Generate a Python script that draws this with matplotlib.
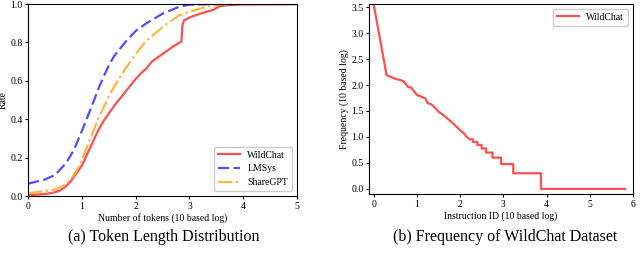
import matplotlib
matplotlib.use("Agg")
import matplotlib.pyplot as plt

plt.rcParams['font.family'] = ['Liberation Serif', 'DejaVu Serif']
plt.rcParams['mathtext.fontset'] = 'stix'

# (a) token length CDF
wild_x = [0, 0.3, 0.5, 0.6, 0.7, 0.8, 0.9, 1.0, 1.1, 1.2, 1.3, 1.4, 1.5, 1.6, 1.8, 2.0, 2.1, 2.2, 2.3, 2.5, 2.7, 2.85, 2.87, 2.9, 3.0, 3.2, 3.45, 3.55, 3.7, 4.0, 5.0]
wild_y = [0.005, 0.01, 0.02, 0.03, 0.05, 0.08, 0.12, 0.16, 0.22, 0.28, 0.34, 0.39, 0.43, 0.47, 0.54, 0.61, 0.64, 0.665, 0.70, 0.74, 0.78, 0.805, 0.89, 0.915, 0.93, 0.95, 0.97, 0.988, 0.994, 0.998, 1.0]
lms_x = [0, 0.3, 0.5, 0.7, 0.85, 1.0, 1.1, 1.2, 1.3, 1.4, 1.5, 1.6, 1.8, 2.0, 2.2, 2.5, 2.8, 3.0, 3.5, 5.0]
lms_y = [0.065, 0.085, 0.11, 0.17, 0.24, 0.34, 0.41, 0.48, 0.555, 0.62, 0.68, 0.73, 0.80, 0.86, 0.90, 0.95, 0.985, 0.997, 1.0, 1.0]
sgpt_x = [0, 0.3, 0.5, 0.7, 0.8, 0.9, 1.0, 1.1, 1.2, 1.3, 1.4, 1.5, 1.6, 1.8, 2.0, 2.2, 2.5, 2.8, 3.0, 3.3, 3.6, 4.0, 5.0]
sgpt_y = [0.015, 0.025, 0.035, 0.06, 0.09, 0.13, 0.19, 0.26, 0.33, 0.40, 0.46, 0.52, 0.57, 0.66, 0.74, 0.81, 0.88, 0.94, 0.96, 0.985, 0.998, 1.0, 1.0]

# (b) instruction frequency
freq_x = [0, 0.3, 0.5, 0.6, 0.7, 0.8, 0.87, 1.0, 1.15, 1.2, 1.25, 1.33, 1.4, 1.5, 1.6, 1.7, 1.8, 1.9, 2.0, 2.1, 2.15, 2.23, 2.23, 2.3, 2.3, 2.4, 2.4, 2.5, 2.5, 2.6, 2.6, 2.75, 2.75, 2.95, 2.95, 3.23, 3.23, 3.87, 3.87, 5.82]
freq_y = [3.56, 2.19, 2.12, 2.10, 2.07, 1.96, 1.95, 1.81, 1.76, 1.74, 1.65, 1.63, 1.58, 1.49, 1.43, 1.36, 1.29, 1.21, 1.13, 1.06, 1.0, 0.954, 0.954, 0.954, 0.903, 0.903, 0.845, 0.845, 0.778, 0.778, 0.699, 0.699, 0.602, 0.602, 0.477, 0.477, 0.301, 0.301, 0.0, 0.0]

fig = plt.figure(figsize=(6.4, 2.54), dpi=100)
ax1 = fig.add_axes([0.044, 0.228, 0.420, 0.756])
ax2 = fig.add_axes([0.577, 0.236, 0.412, 0.748])

lw = 1.6
ax1.plot(wild_x, wild_y, color='#ff3030', alpha=0.85, lw=lw, label='WildChat')
ax1.plot(lms_x, lms_y, color='#3030ff', alpha=0.85, lw=lw, ls=(0, (5, 2)), label='LMSys')
ax1.plot(sgpt_x, sgpt_y, color='#ffaa22', alpha=0.85, lw=lw, ls='-.', label='ShareGPT')
ax1.set_xlim(0, 5)
ax1.set_ylim(0, 1)
ax1.set_xticks([0, 1, 2, 3, 4, 5])
ax1.set_yticks([0, 0.2, 0.4, 0.6, 0.8, 1.0])
ax1.set_xlabel('Number of tokens (10 based log)', fontsize=7, labelpad=2)
ax1.set_ylabel('Rate', fontsize=7, labelpad=2)
ax1.tick_params(labelsize=7, length=2.5, pad=1.5)
ax1.legend(loc='lower right', fontsize=7, framealpha=1, edgecolor='#cccccc', handlelength=2.2)

ax2.plot(freq_x, freq_y, color='#ff3030', alpha=0.85, lw=lw, label='WildChat')
ax2.set_xlim(-0.1, 5.92)
ax2.set_ylim(-0.1, 3.56)
ax2.set_xticks([0, 1, 2, 3, 4, 5, 6])
ax2.set_yticks([0, 0.5, 1.0, 1.5, 2.0, 2.5, 3.0, 3.5])
ax2.set_xlabel('Instruction ID (10 based log)', fontsize=7, labelpad=2)
ax2.set_ylabel('Frequency (10 based log)', fontsize=7, labelpad=2)
ax2.tick_params(labelsize=7, length=2.5, pad=1.5)
ax2.legend(loc='upper right', fontsize=7, framealpha=1, edgecolor='#cccccc', handlelength=2.2)

fig.text(0.256, 0.035, '(a) Token Length Distribution', ha='center', va='bottom', fontsize=11.5)
fig.text(0.79, 0.035, '(b) Frequency of WildChat Dataset', ha='center', va='bottom', fontsize=11.5)

fig.savefig('out.png', dpi=100)
